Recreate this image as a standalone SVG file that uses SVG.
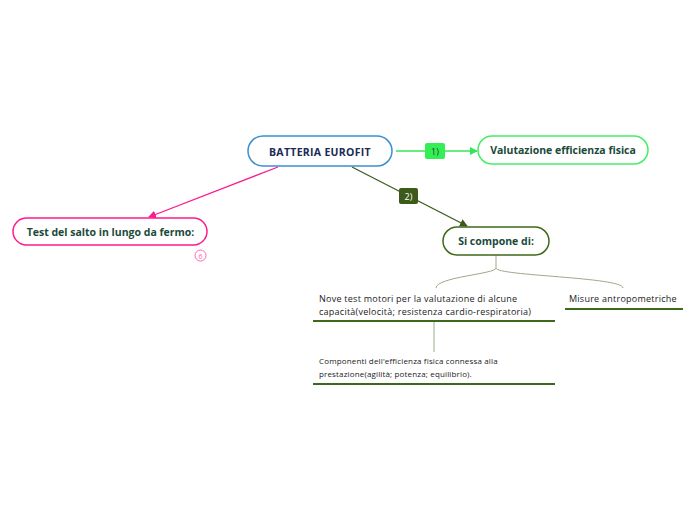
<svg xmlns="http://www.w3.org/2000/svg" width="696" height="520" viewBox="0 0 696 520">
<style>
.t{font-family:"Open Sans","Noto Sans","DejaVu Sans",sans-serif}
.b{font-weight:bold;font-size:10.5px;text-anchor:middle}
.n{font-size:9px;fill:#222;letter-spacing:0.25px}
.s{font-size:8px;fill:#222;letter-spacing:0.15px}
.ul{stroke:#3d6a1a;stroke-width:2}
</style>
<defs>
<marker id="ag" markerWidth="8" markerHeight="8" refX="7" refY="4" orient="auto" markerUnits="userSpaceOnUse"><path d="M0,0 L8,4 L0,8 z" fill="#33e655"/></marker>
<marker id="ao" markerWidth="8" markerHeight="8" refX="7" refY="4" orient="auto" markerUnits="userSpaceOnUse"><path d="M0,0 L8,4 L0,8 z" fill="#3d5a1a"/></marker>
<marker id="ap" markerWidth="8" markerHeight="8" refX="7" refY="4" orient="auto" markerUnits="userSpaceOnUse"><path d="M0,0 L8,4 L0,8 z" fill="#ff1a8c"/></marker>
</defs>
<rect width="696" height="520" fill="#fff"/>
<g id="connectors">
<line x1="396" y1="151" x2="477" y2="151" stroke="#33e655" stroke-width="1.3" marker-end="url(#ag)"/>
<rect x="425" y="143" width="20" height="16" rx="2" fill="#33ee55"/>
<text class="t" x="435" y="154.5" font-size="9" text-anchor="middle" fill="#1a4a2a">1)</text>
<line x1="352" y1="167" x2="467" y2="226" stroke="#3d5a1a" stroke-width="1.3" marker-end="url(#ao)"/>
<rect x="399" y="188" width="19" height="16" rx="2" fill="#3d5a1a"/>
<text class="t" x="408.5" y="199.5" font-size="9" text-anchor="middle" fill="#fff">2)</text>
<line x1="278" y1="167" x2="149" y2="217" stroke="#ff1a8c" stroke-width="1.3" marker-end="url(#ap)"/>
<path d="M496,255 V268 C496,274 436,277 436,288 M496,268 C496,276 623,277 623,288" fill="none" stroke="#9aaa88" stroke-width="1"/>
<line x1="434" y1="322" x2="434" y2="352" stroke="#9aaa88" stroke-width="1"/>
</g>
<g id="root">
<rect x="248" y="136" width="144" height="30" rx="15" fill="#fff" stroke="#3b8fd0" stroke-width="1.5"/>
<text class="t b" x="320" y="155.5" fill="#1a2a55" font-size="12" letter-spacing="0.3">BATTERIA EUROFIT</text>
</g>
<g id="valutazione">
<rect x="478" y="136" width="170" height="28" rx="14" fill="#fff" stroke="#44ee66" stroke-width="1.5"/>
<text class="t b" x="563" y="154" fill="#1a4a3a" font-size="9.5">Valutazione efficienza fisica</text>
</g>
<g id="compone">
<rect x="443" y="227" width="106" height="28" rx="14" fill="#fff" stroke="#3d6a1a" stroke-width="1.5"/>
<text class="t b" x="496" y="245" fill="#1a4a3a" font-size="9.8">Si compone di:</text>
</g>
<g id="salto">
<rect x="13" y="218" width="194" height="27" rx="13.5" fill="#fff" stroke="#ff1a8c" stroke-width="1.5"/>
<text class="t b" x="110.5" y="235.5" fill="#1a4a3a" font-size="9.6">Test del salto in lungo da fermo:</text>
<circle cx="200.5" cy="255.5" r="5.5" fill="#fff" stroke="#ff66b0" stroke-width="1"/>
<text class="t" x="200.5" y="258.5" font-size="7" text-anchor="middle" fill="#ff66b0">6</text>
</g>
<g id="nove">
<text class="t n" x="319" y="302">Nove test motori per la valutazione di alcune</text>
<text class="t n" x="319" y="315">capacità(velocità; resistenza cardio-respiratoria)</text>
<line class="ul" x1="313" y1="321" x2="555" y2="321"/>
</g>
<g id="misure">
<text class="t n" x="569" y="302">Misure antropometriche</text>
<line class="ul" x1="565" y1="309" x2="683" y2="309"/>
</g>
<g id="componenti">
<text class="t s" x="319" y="364">Componenti dell'efficienza fisica connessa alla</text>
<text class="t s" x="319" y="377">prestazione(agilità; potenza; equilibrio).</text>
<line class="ul" x1="313" y1="384" x2="555" y2="384"/>
</g>
</svg>
